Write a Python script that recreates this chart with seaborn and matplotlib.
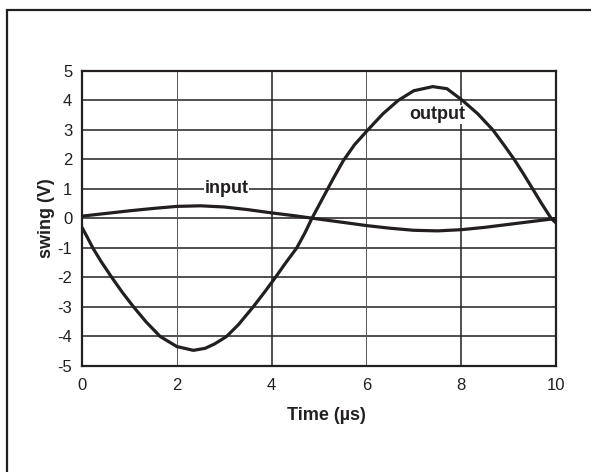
import numpy as np
import pandas as pd
import matplotlib
matplotlib.use("Agg")
import matplotlib.pyplot as plt
import seaborn as sns
from matplotlib.patches import Rectangle

sns.set_style("white")
plt.rcParams['font.family'] = ['Liberation Sans', 'DejaVu Sans']
plt.rcParams['axes.unicode_minus'] = False

# values
time_out = [0.0, 0.1, 0.23, 0.4, 0.63, 0.85, 1.09, 1.35, 1.65, 2.0, 2.35, 2.6,
            2.8, 3.05, 3.3, 3.61, 3.85, 4.08, 4.3, 4.53, 4.7, 4.85, 5.0, 5.15,
            5.3, 5.51, 5.75, 6.03, 6.35, 6.67, 7.0, 7.4, 7.7, 8.03, 8.35, 8.67,
            8.9, 9.12, 9.3, 9.51, 9.7, 9.9, 10.0]
output_v = [-0.3, -0.6, -1.0, -1.45, -2.0, -2.5, -3.0, -3.5, -4.0, -4.34, -4.47, -4.4,
            -4.25, -4.0, -3.6, -3.0, -2.5, -2.0, -1.5, -1.0, -0.5, 0.0, 0.45, 0.9,
            1.35, 1.95, 2.5, 3.0, 3.55, 4.0, 4.33, 4.47, 4.4, 4.0, 3.55, 3.0,
            2.5, 2.0, 1.55, 1.0, 0.5, 0.0, -0.15]

time_in = [0.0, 0.5, 1.0, 1.5, 2.0, 2.5, 3.0, 3.5, 4.0, 4.5, 4.9, 5.5, 6.0,
           6.5, 7.0, 7.5, 8.0, 8.5, 9.0, 9.5, 10.0]
input_v = [0.08, 0.17, 0.26, 0.34, 0.41, 0.43, 0.39, 0.3, 0.19, 0.09, 0.0, -0.13, -0.24,
           -0.33, -0.4, -0.42, -0.38, -0.3, -0.2, -0.1, 0.0]

df_out = pd.DataFrame({'t': time_out, 'v': output_v})
df_in = pd.DataFrame({'t': time_in, 'v': input_v})

ink = '#231f20'
fig = plt.figure(figsize=(5.91, 4.72), dpi=100)
ax = fig.add_axes([0.1387, 0.2246, 0.802, 0.625])

# grid
for y in range(-4, 5):
    ax.axhline(y, color=ink, lw=1.1, zorder=1)
for x in [2, 6]:
    ax.axvline(x, color='#555555', lw=0.7, zorder=1)
for x in [4, 8]:
    ax.axvline(x, color=ink, lw=1.1, zorder=1)

sns.lineplot(data=df_in, x='t', y='v', ax=ax, color=ink, lw=2.3, zorder=3)
sns.lineplot(data=df_out, x='t', y='v', ax=ax, color=ink, lw=2.3, zorder=3)

ax.set_xlim(0, 10)
ax.set_ylim(-5, 5)
ax.set_xticks([0, 2, 4, 6, 8, 10])
ax.set_yticks(range(-5, 6))
ax.tick_params(length=0, labelsize=12, colors=ink)
ax.tick_params(axis='x', pad=9)
ax.tick_params(axis='y', pad=7)
for s in ax.spines.values():
    s.set_linewidth(1.6)
    s.set_color(ink)

ax.set_xlabel('Time (\u00b5s)', fontsize=13, fontweight='bold', color=ink, labelpad=10)
ax.set_ylabel('swing (V)', fontsize=13, fontweight='bold', color=ink, labelpad=2)
ax.xaxis.label.set_x(0.515)

ax.text(3.05, 1.0, 'input', fontsize=13, fontweight='bold', color=ink, ha='center', va='center',
        zorder=2, bbox=dict(facecolor='white', edgecolor='none', pad=0.5))
ax.text(7.5, 3.52, 'output', fontsize=13, fontweight='bold', color=ink, ha='center', va='center',
        zorder=2, bbox=dict(facecolor='white', edgecolor='none', pad=0.5))

# outer frame
fig.patches.append(Rectangle((7 / 591, -0.05), 1.1, 0.9788 + 0.05, transform=fig.transFigure,
                             fill=False, edgecolor=ink, lw=1.6))

fig.savefig('out.png', dpi=100)
